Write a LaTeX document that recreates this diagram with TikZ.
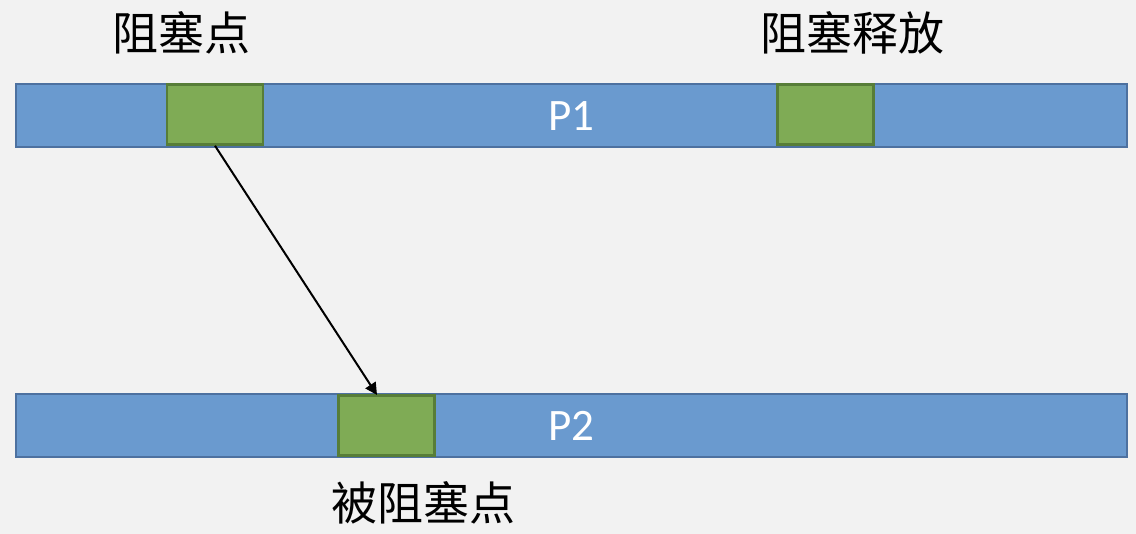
\documentclass[tikz,border=0pt]{standalone}
\usepackage{fontspec}
\setmainfont{Carlito}
\newfontfamily\cjk{Noto Sans CJK SC}
\usetikzlibrary{arrows.meta}
\definecolor{bg}{HTML}{F2F2F2}
\definecolor{barfill}{HTML}{6A9ACF}
\definecolor{barline}{HTML}{4D71A0}
\definecolor{gfill}{HTML}{7FAB55}
\definecolor{gline}{HTML}{577D38}
\tikzset{
  bar/.style={draw=barline, fill=barfill, line width=2pt, minimum width=1111pt, minimum height=63pt, inner sep=0pt, text=white, font=\fontsize{45}{50}\selectfont},
  blk/.style={draw=gline, fill=gfill, line width=2.5pt, minimum width=96pt, minimum height=60pt, inner sep=0pt},
  lbl/.style={font=\cjk\fontsize{46}{52}\selectfont, inner sep=0pt, text=black},
  conn/.style={line width=2pt, -{Triangle[length=12pt,width=12pt]}}
}
\begin{document}
\begin{tikzpicture}[x=1pt,y=-1pt]
\fill[bg] (0,0) rectangle (1136,534);
\useasboundingbox (0,0) rectangle (1136,534);
\node[bar] (p1) at (571.5,116) {P1};
\node[bar] (p2) at (571.5,425.5) {P2};
\node[blk] (g1) at (215,114.5) {};
\node[blk] (g2) at (825.5,114.5) {};
\node[blk] (g3) at (386.5,425.5) {};
\node[lbl] (l1) at (181,33) {阻塞点};
\node[lbl] (l2) at (852,33) {阻塞释放};
\node[lbl] (l3) at (423,503) {被阻塞点};
\coordinate (t) at (377,395);
\draw[conn] (g1.south) -- (t);
\end{tikzpicture}
\end{document}
